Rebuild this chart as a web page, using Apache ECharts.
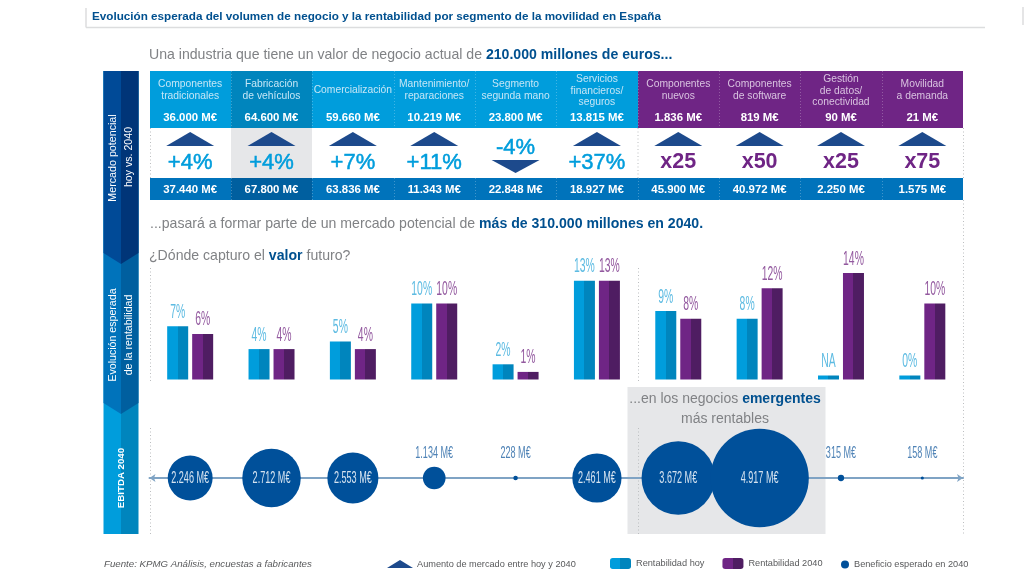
<!DOCTYPE html>
<html lang="es">
<head>
<meta charset="UTF-8">
<title>Movilidad en España</title>
<script src="https://cdn.jsdelivr.net/npm/echarts@6/dist/echarts.min.js"></script>
<style>html,body{margin:0;background:#fff}#chart{width:1024px;height:575px}</style>
</head>
<body>
<div id="chart"></div>
<script>
const categories = ['Componentes\ntradicionales', 'Fabricación\nde vehículos', 'Comercialización', 'Mantenimiento/\nreparaciones', 'Segmento\nsegunda mano', 'Servicios\nfinancieros/\nseguros', 'Componentes\nnuevos', 'Componentes\nde software', 'Gestión\nde datos/\nconectividad', 'Movilidad\na demanda'];
const marketToday = ['36.000 M€', '64.600 M€', '59.660 M€', '10.219 M€', '23.800 M€', '13.815 M€', '1.836 M€', '819 M€', '90 M€', '21 M€'];
const growth = ['+4%', '+4%', '+7%', '+11%', '-4%', '+37%', 'x25', 'x50', 'x25', 'x75'];
const market2040 = ['37.440 M€', '67.800 M€', '63.836 M€', '11.343 M€', '22.848 M€', '18.927 M€', '45.900 M€', '40.972 M€', '2.250 M€', '1.575 M€'];
const profitToday = [7, 4, 5, 10, 2, 13, 9, 8, 0, 0];
const profitTodayLabels = ['7%', '4%', '5%', '10%', '2%', '13%', '9%', '8%', 'NA', '0%'];
const profit2040 = [6, 4, 4, 10, 1, 13, 8, 12, 14, 10];
const ebitda = [2246, 2712, 2553, 1134, 228, 2461, 3672, 4917, 315, 158];
const ebitdaLabels = ['2.246 M€', '2.712 M€', '2.553 M€', '1.134 M€', '228 M€', '2.461 M€', '3.672 M€', '4.917 M€', '315 M€', '158 M€'];

const FONT = '"Liberation Sans", Arial, sans-serif';
const BLUE = '#009ddc', BLUE_D = '#0085bd', PURPLE = '#6f2585', PURPLE_D = '#4f1d62';
const NAVY = '#00508f', GREY = '#808285', ARROW = '#1d4a8c', PANEL = '#e6e7e9';
const TOP_EMERGING = 6; // columns from here on are the purple ones

function twoTone(a, b) {
  return new echarts.graphic.LinearGradient(0, 0, 1, 0, [
    { offset: 0, color: a }, { offset: 0.5, color: a },
    { offset: 0.5, color: b }, { offset: 1, color: b }
  ]);
}

// the 10 cell table on top, x comes from the bar grid's category axis
function renderTable(params, api) {
  const i = api.value(0);
  const cx = api.coord([i, 0])[0];
  const band = api.size([1, 0])[0];
  const x0 = Math.round(cx - band / 2), x1 = Math.round(cx + band / 2);
  const w = x1 - x0;
  const emerging = i >= TOP_EMERGING;
  const kids = [];
  const rect = (y, h, fill) => kids.push({ type: 'rect', shape: { x: x0, y, width: w, height: h }, style: { fill } });
  const text = (s, y, size, fill, weight, stroke) => kids.push({
    type: 'text',
    style: { text: s, x: cx, y, fill, fontSize: size, fontFamily: FONT, fontWeight: weight || 'normal', textAlign: 'center', textVerticalAlign: 'middle', stroke: stroke || null, lineWidth: stroke ? 0.5 : 0 }
  });

  rect(71, 57, emerging ? PURPLE : (i === 1 ? BLUE_D : BLUE));
  rect(178, 22, i === 1 ? '#005f9f' : '#0073bb');
  if (i === 1) rect(128, 50, PANEL);

  const lines = categories[i].split('\n');
  const ys = lines.length === 3 ? [79, 90.7, 102.3] : lines.length === 2 ? [84.5, 96.5] : [90.5];
  lines.forEach((l, k) => text(l, ys[k], 10.3, emerging ? '#d9c3e0' : '#c4e6f6'));
  text(marketToday[i], 117.5, 11.4, '#fff', 'bold');
  text(market2040[i], 189.5, 11.4, '#fff', 'bold');

  const down = growth[i][0] === '-';
  const pts = down
    ? [[cx - 24, 160], [cx + 24, 160], [cx, 173]]
    : [[cx - 24, 146], [cx + 24, 146], [cx, 132]];
  kids.push({ type: 'polygon', shape: { points: pts }, style: { fill: ARROW } });
  if (emerging) text(growth[i], 162.5, 21.5, PURPLE, 'bold');
  else text(growth[i], down ? 148 : 162.5, 22, BLUE, 'normal', BLUE);

  if (i > 0) {
    const edge = (y1, y2, color) => kids.push({ type: 'line', shape: { x1: x0 + 0.5, y1, x2: x0 + 0.5, y2 }, style: { stroke: color, lineWidth: 1, lineDash: [1, 2] } });
    edge(71, 128, 'rgba(255,255,255,0.25)');
    edge(178, 200, 'rgba(255,255,255,0.25)');
  }
  return { type: 'group', children: kids };
}

// condensed value label above a bar; canvas has no font-stretch so the text gets squeezed
function barLabel(labels, dx, fill) {
  return (params, api) => {
    const i = api.value(0);
    const p = api.coord([i, api.value(1)]);
    return {
      type: 'text', x: p[0] + dx, y: p[1] - 4 - (api.value(1) === 0 ? 4 : 0), scaleX: 0.52,
      style: { text: labels[i], fill, fontSize: 20, fontFamily: FONT, textAlign: 'center', textVerticalAlign: 'bottom' }
    };
  };
}

function bubbleLabel(params, api) {
  const i = api.value(0);
  const inside = api.value(2) >= 2000;
  const p = api.coord([i, 0]);
  return {
    type: 'text', x: p[0], y: inside ? p[1] : p[1] - 25, scaleX: 0.55,
    style: { text: ebitdaLabels[i], fill: inside ? '#d5e3f0' : '#4f83b6', fontSize: 16.5, fontFamily: FONT, textAlign: 'center', textVerticalAlign: 'middle' }
  };
}

const dotted = (x, y1, y2) => ({ type: 'line', shape: { x1: x, y1, x2: x, y2 }, style: { stroke: '#bcbec0', lineWidth: 1, lineDash: [1, 2.5] } });
const poly = (points, fill) => ({ type: 'polygon', shape: { points }, style: { fill } });
const sideBand = (top, bottom, left, right, tip) => [
  poly([[103.5, top], [121, top], [121, bottom + (tip ? 11 : 0)], [103.5, bottom]], left),
  poly([[121, top], [138.5, top], [138.5, bottom], [121, bottom + (tip ? 11 : 0)]], right)
];
const sideText = (s, x, y, size, weight) => ({
  type: 'text', x, y, rotation: Math.PI / 2,
  style: { text: s, fill: '#fff', fontSize: size, fontFamily: FONT, fontWeight: weight || 'normal', textAlign: 'center', textVerticalAlign: 'middle' }
});
const rich = (x, y, size, parts, align) => ({
  type: 'text', x, y,
  style: {
    text: parts.map(p => p[1] ? '{b|' + p[0] + '}' : '{n|' + p[0] + '}').join(''),
    textAlign: align || 'left', textVerticalAlign: 'middle',
    rich: {
      n: { fontSize: size, fontFamily: FONT, fill: GREY },
      b: { fontSize: size, fontFamily: FONT, fontWeight: 'bold', fill: NAVY }
    }
  }
});
const small = (s, x, y, size, extra) => ({
  type: 'text', x, y,
  style: Object.assign({ text: s, fill: '#58595b', fontSize: size, fontFamily: FONT, textVerticalAlign: 'middle' }, extra)
});
const rule = (x1, y1, x2, y2) => ({ type: 'line', shape: { x1, y1, x2, y2 }, style: { stroke: '#dcddde', lineWidth: 1.5 } });

const chart = echarts.init(document.getElementById('chart'), null, { renderer: 'canvas' });
const idx = categories.map((c, i) => i);

chart.setOption({
  animation: false,
  backgroundColor: '#fff',
  title: {
    text: 'Evolución esperada del volumen de negocio y la rentabilidad por segmento de la movilidad en España',
    left: 87, top: 6,
    textStyle: { color: NAVY, fontSize: 11.7, fontWeight: 'bold', fontFamily: FONT }
  },
  legend: [
    {
      data: ['Rentabilidad hoy', 'Rentabilidad 2040'], left: 610, top: 558, padding: 0, itemWidth: 21, itemHeight: 11, itemGap: 18,
      textStyle: { fontSize: 9.2, fontFamily: FONT, color: '#58595b' }
    },
    {
      data: ['Beneficio esperado en 2040'], left: 841, top: 560, padding: 0, itemWidth: 14, itemHeight: 8, itemGap: 0,
      textStyle: { fontSize: 9.2, fontFamily: FONT, color: '#58595b', padding: [0, 0, 0, -3] }
    }
  ],
  grid: [
    { left: 149.5, width: 813.5, top: 260, height: 119.5 },
    { left: 149.5, width: 813.5, top: 428, height: 100 }
  ],
  xAxis: [
    { type: 'category', gridIndex: 0, data: idx, axisLine: { show: false }, axisTick: { show: false }, axisLabel: { show: false } },
    {
      type: 'category', gridIndex: 1, data: idx, axisTick: { show: false }, axisLabel: { show: false }, z: 1,
      axisLine: { onZero: true, symbol: ['arrow', 'arrow'], symbolSize: [6, 6], lineStyle: { color: '#7fa3c4', width: 2 } }
    }
  ],
  yAxis: [
    { type: 'value', gridIndex: 0, min: 0, max: 15.72, show: false },
    { type: 'value', gridIndex: 1, min: -1, max: 1, show: false }
  ],
  series: [
    {
      type: 'custom', xAxisIndex: 0, yAxisIndex: 0, renderItem: renderTable, silent: true,
      data: idx.map(i => [i, 0]), encode: { x: 0, y: 1 }, clip: false
    },
    {
      name: 'Rentabilidad hoy', type: 'bar', xAxisIndex: 0, yAxisIndex: 0, data: profitToday,
      barWidth: 21, barGap: '19%', barMinHeight: 4, itemStyle: { color: twoTone(BLUE, BLUE_D) }
    },
    {
      name: 'Rentabilidad 2040', type: 'bar', xAxisIndex: 0, yAxisIndex: 0, data: profit2040,
      barWidth: 21, barGap: '19%', itemStyle: { color: twoTone(PURPLE, PURPLE_D) }
    },
    {
      type: 'custom', xAxisIndex: 0, yAxisIndex: 0, clip: false, z: 3,
      renderItem: barLabel(profitTodayLabels, -12.5, '#5dbbe2'),
      data: profitToday.map((v, i) => [i, v]), encode: { x: 0, y: 1 }
    },
    {
      type: 'custom', xAxisIndex: 0, yAxisIndex: 0, clip: false, z: 3,
      renderItem: barLabel(profit2040.map(v => v + '%'), 12.5, '#93599f'),
      data: profit2040.map((v, i) => [i, v]), encode: { x: 0, y: 1 }
    },
    {
      name: 'Beneficio esperado en 2040', type: 'scatter', xAxisIndex: 1, yAxisIndex: 1, z: 3,
      data: ebitda.map((v, i) => [i, 0, v]),
      // diameter follows the value; the 2.712 bubble is drawn a bit larger in the original
      symbolSize: (d, p) => p.dataIndex === 1 ? 58.5 : d[2] / 50,
      itemStyle: { color: '#00509a', opacity: 1 }
    },
    {
      type: 'custom', xAxisIndex: 1, yAxisIndex: 1, clip: false, z: 4, renderItem: bubbleLabel,
      data: ebitda.map((v, i) => [i, 0, v]), encode: { x: 0, y: 1 }
    }
  ],
  graphic: { elements: [
    rule(86, 27.5, 985, 27.5),
    rule(86, 8, 86, 27.5),
    rule(1023, 7, 1023, 25),
    ...sideBand(71, 534, BLUE, BLUE_D, false),
    ...sideBand(71, 403, '#0073bb', '#005f9f', true),
    ...sideBand(71, 253, '#004a97', '#003578', true),
    sideText('Mercado potencial', 113, 158, 10.7),
    sideText('hoy vs. 2040', 129, 157, 10.6),
    sideText('Evolución esperada', 113.5, 335, 10.6),
    sideText('de la rentabilidad', 129.5, 335, 10.6),
    sideText('EBITDA 2040', 121, 478, 9.7, 'bold'),
    rich(149, 55, 14.1, [['Una industria que tiene un valor de negocio actual de ', 0], ['210.000 millones de euros...', 1]]),
    rich(150, 224, 14.1, [['...pasará a formar parte de un mercado potencial de ', 0], ['más de 310.000 millones en 2040.', 1]]),
    rich(149, 256, 14.1, [['¿Dónde capturo el ', 0], ['valor', 1], [' futuro?', 0]]),
    { type: 'rect', shape: { x: 627.5, y: 387, width: 198, height: 147 }, style: { fill: PANEL } },
    rich(725, 399, 14, [['...en los negocios ', 0], ['emergentes', 1]], 'center'),
    rich(725, 419, 14, [['más rentables', 0]], 'center'),
    dotted(150.5, 128, 178), dotted(638, 128, 178),
    dotted(150.5, 268, 383), dotted(638.5, 268, 383),
    dotted(150.5, 428, 534), dotted(638.5, 428, 534),
    dotted(963.5, 128, 178), dotted(963.5, 200, 534),
    small('Fuente: KPMG Análisis, encuestas a fabricantes', 104, 564, 9.7, { fontStyle: 'italic' }),
    poly([[387, 568], [413, 568], [400, 560]], ARROW),
    small('Aumento de mercado entre hoy y 2040', 417, 564, 9.2)
  ] }
});
</script>
</body>
</html>
